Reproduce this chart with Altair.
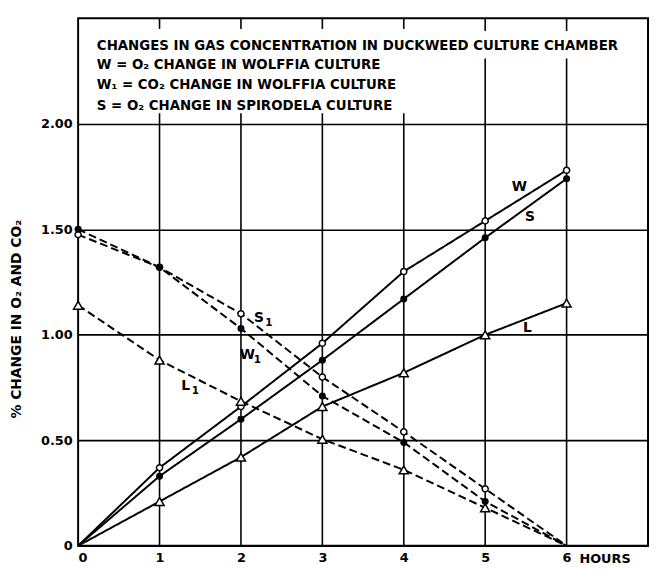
import altair as alt
import pandas as pd

# ---- data ----
hours = [0, 1, 2, 3, 4, 5, 6]
W = [0, 0.37, 0.66, 0.96, 1.30, 1.54, 1.78]
S = [0, 0.33, 0.60, 0.88, 1.17, 1.46, 1.74]
L = [0, 0.21, 0.42, 0.66, 0.82, 1.00, 1.15]
S1 = [1.475, 1.32, 1.10, 0.80, 0.54, 0.27, 0]
W1 = [1.50, 1.32, 1.03, 0.71, 0.49, 0.21, 0]
L1 = [1.14, 0.88, 0.685, 0.505, 0.36, 0.18, 0]

series_names = ["W", "S", "L", "S1", "W1", "L1"]
series_values = [W, S, L, S1, W1, L1]
series_style = ["solid", "solid", "solid", "dashed", "dashed", "dashed"]
series_marker = ["open", "dot", "tri", "open", "dot", "tri"]

label_text = ["W", "S", "L", "S", "W", "L"]
label_sub = ["", "", "", "1", "1", "1"]
label_x = [5.42, 5.55, 5.52, 2.22, 2.08, 1.32]
label_y = [1.70, 1.56, 1.03, 1.08, 0.905, 0.758]

legend_lines = [
    "CHANGES IN GAS CONCENTRATION IN DUCKWEED  CULTURE CHAMBER",
    "W  =  O₂ CHANGE IN WOLFFIA  CULTURE",
    "W₁ =  CO₂ CHANGE IN WOLFFIA CULTURE",
    "S  =  O₂ CHANGE IN SPIRODELA CULTURE",
]
legend_y = [2.37, 2.277, 2.184, 2.083]
legend_x0 = 0.23

y_ticks = [0, 0.5, 1.0, 1.5, 2.0]
x_ticks = [0, 1, 2, 3, 4, 5, 6]

# vertical grid segments (the legend box interrupts them)
vgrid_x = [1, 1, 2, 2, 3, 3, 4, 4, 5, 5, 6, 6]
vgrid_y = [0, 2.45, 0, 2.45, 0, 2.45, 0, 2.45, 0, 2.44, 0, 2.44]
vgrid_y2 = [2.05, 2.5, 2.05, 2.5, 2.05, 2.5, 2.05, 2.5, 2.31, 2.5, 2.31, 2.5]

FONT = "DejaVu Sans"
W_PX, H_PX = 577, 534

rows = []
for name, vals, sty, mk in zip(series_names, series_values, series_style, series_marker):
    for h, v in zip(hours, vals):
        rows.append({"series": name, "hour": h, "value": v, "style": sty, "marker": mk})
df = pd.DataFrame(rows)

xs = alt.Scale(domain=[0, 7], nice=False, zero=False)
ys = alt.Scale(domain=[0, 2.5], nice=False, zero=False)

X = alt.X("hour:Q", scale=xs,
          axis=alt.Axis(values=x_ticks, grid=False, title=None, labelPadding=6,
                        labelExpr="format(datum.value, 'd')"))
Y = alt.Y("value:Q", scale=ys,
          axis=alt.Axis(values=y_ticks, grid=True, gridColor="black", gridWidth=1.6,
                        gridOpacity=1, labelPadding=6,
                        labelExpr="datum.value == 0 ? '0' : format(datum.value, '.2f')",
                        title="%  CHANGE  IN  O₂  AND  CO₂",
                        titleFont=FONT, titleFontSize=14, titleFontWeight="bold",
                        titleX=-62, titleY=304, titleAngle=270,
                        titleAlign="center", titleBaseline="middle", titleColor="black"))

base = alt.Chart(df)

vgrid = alt.Chart(pd.DataFrame({"hour": vgrid_x, "value": vgrid_y, "value2": vgrid_y2})).mark_rule(
    color="black", strokeWidth=1.6
).encode(x=alt.X("hour:Q", scale=xs), y=alt.Y("value:Q", scale=ys), y2="value2:Q")

lines = base.mark_line(color="black", strokeWidth=2).encode(
    x=X, y=Y, detail="series:N",
    strokeDash=alt.StrokeDash("style:N", scale=alt.Scale(domain=["solid", "dashed"],
                                                          range=[[1, 0], [8, 4]]), legend=None),
)

pts = base.transform_filter("datum.value > 0")
open_pts = pts.transform_filter("datum.marker == 'open'").mark_point(
    shape="circle", filled=True, fill="white", stroke="black", strokeWidth=1.5, size=38, opacity=1
).encode(x=alt.X("hour:Q", scale=xs), y=alt.Y("value:Q", scale=ys))
dot_pts = pts.transform_filter("datum.marker == 'dot'").mark_point(
    shape="circle", filled=True, color="black", size=50, opacity=1
).encode(x=alt.X("hour:Q", scale=xs), y=alt.Y("value:Q", scale=ys))
tri_pts = pts.transform_filter("datum.marker == 'tri'").mark_point(
    shape="triangle-up", filled=True, fill="white", stroke="black", strokeWidth=1.5, size=85, opacity=1
).encode(x=alt.X("hour:Q", scale=xs), y=alt.Y("value:Q", scale=ys))

lab_df = pd.DataFrame({"hour": label_x, "value": label_y, "t": label_text, "s": label_sub})
labels = alt.Chart(lab_df).mark_text(
    font=FONT, fontWeight="bold", fontSize=14, color="black", align="center", baseline="middle"
).encode(x=alt.X("hour:Q", scale=xs), y=alt.Y("value:Q", scale=ys), text="t:N")
subs = alt.Chart(lab_df).transform_filter("datum.s != ''").mark_text(
    font=FONT, fontWeight="bold", fontSize=10.5, color="black", align="center", baseline="middle",
    dx=10, dy=5
).encode(x=alt.X("hour:Q", scale=xs), y=alt.Y("value:Q", scale=ys), text="s:N")

legend = alt.Chart(pd.DataFrame({"hour": [legend_x0] * len(legend_lines), "value": legend_y,
                                 "t": legend_lines})).mark_text(
    font=FONT, fontWeight="bold", fontSize=13.5, color="black", align="left", baseline="middle"
).encode(x=alt.X("hour:Q", scale=xs), y=alt.Y("value:Q", scale=ys), text="t:N")

hours_lbl = alt.Chart(pd.DataFrame({"hour": [6], "value": [0], "t": ["HOURS"]})).mark_text(
    font=FONT, fontWeight="bold", fontSize=13, color="black", align="left", baseline="top",
    dx=13, dy=7
).encode(x=alt.X("hour:Q", scale=xs), y=alt.Y("value:Q", scale=ys), text="t:N")

chart = alt.layer(lines, vgrid, open_pts, dot_pts, tri_pts, labels, subs, legend, hours_lbl).properties(
    width=W_PX, height=H_PX,
    autosize=alt.AutoSizeParams(type="none"),
    padding={"left": 71, "top": 7, "right": 1, "bottom": 18},
).configure_view(stroke="black", strokeWidth=2).configure_axis(
    domain=False, ticks=False, labelFont=FONT, labelFontWeight="bold", labelFontSize=13,
    labelColor="black"
)

chart.save("out.html", embed_options={"renderer": "svg", "actions": False})
